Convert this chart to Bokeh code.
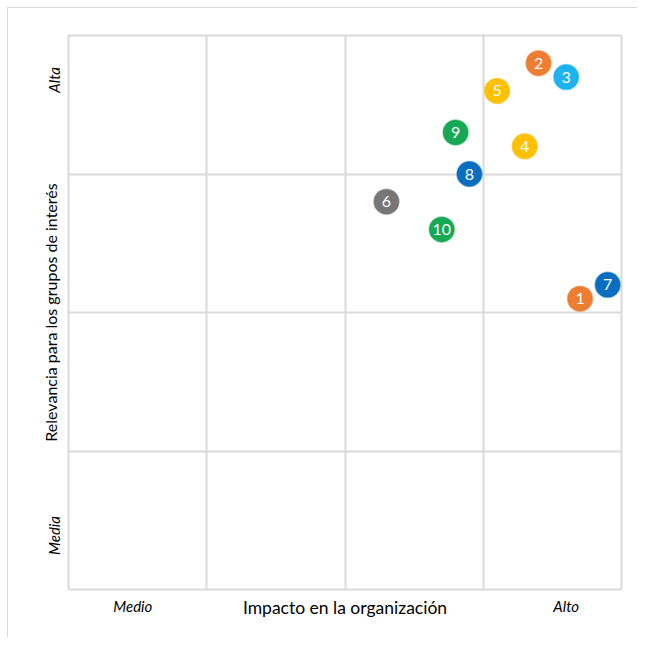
import math
from bokeh.plotting import figure
from bokeh.models import ColumnDataSource, Grid, FixedTicker, LinearAxis
from bokeh.core.properties import value
from bokeh.embed import file_html
from bokeh.resources import INLINE

# Data
ids = ["1", "2", "3", "4", "5", "6", "7", "8", "9", "10"]
impacto = [3.7, 3.4, 3.6, 3.3, 3.1, 2.3, 3.9, 2.9, 2.8, 2.7]
relevancia = [2.1, 3.8, 3.7, 3.2, 3.6, 2.8, 2.2, 3.0, 3.3, 2.6]
colores = ["#ED7D31", "#ED7D31", "#1DB3EE", "#FFC000", "#FFC000",
           "#767676", "#0A6EC0", "#0A6EC0", "#16A853", "#16A853"]
x_cat_labels = ["Medio", "Alto"]
x_cat_pos = [0.465, 3.6]
y_cat_labels = ["Media", "Alta"]
y_cat_pos = [0.39, 3.68]
x_title = "Impacto en la organización"
y_title = "Relevancia para los grupos de interés"

src = ColumnDataSource(dict(x=impacto, y=relevancia, t=ids, c=colores))

p = figure(width=630, height=630, x_range=(0, 4), y_range=(0, 4),
           x_axis_type=None, y_axis_type=None,
           output_backend="svg", toolbar_location=None,
           min_border_left=60, min_border_right=17,
           min_border_top=27, min_border_bottom=49,
           background_fill_color="white", border_fill_color="white",
           styles={"border-left": "1px solid #d9d9d9", "border-top": "1px solid #d9d9d9",
                   "margin-left": "7px", "margin-top": "7px"})

p.outline_line_color = "#D9D9D9"
p.outline_line_width = 2

for dim in (0, 1):
    g = Grid(dimension=dim, ticker=FixedTicker(ticks=[1, 2, 3]),
             grid_line_color="#D9D9D9", grid_line_width=2)
    p.add_layout(g)

xa = LinearAxis(ticker=FixedTicker(ticks=x_cat_pos),
                major_label_overrides={v: s for v, s in zip(x_cat_pos, x_cat_labels)},
                axis_label=x_title)
ya = LinearAxis(ticker=FixedTicker(ticks=y_cat_pos),
                major_label_overrides={v: s for v, s in zip(y_cat_pos, y_cat_labels)},
                axis_label=y_title, major_label_orientation="vertical")
for ax in (xa, ya):
    ax.axis_line_color = None
    ax.major_tick_line_color = None
    ax.minor_tick_line_color = None
    ax.major_label_text_font = "Lato"
    ax.major_label_text_font_style = "italic"
    ax.major_label_text_font_size = "15px"
    ax.major_label_text_color = "black"
    ax.axis_label_text_font = "Lato"
    ax.axis_label_text_font_style = "normal"
    ax.axis_label_text_color = "black"
xa.axis_label_text_font_size = "17.5px"
ya.axis_label_text_font_size = "16px"
xa.major_label_standoff = 1
xa.axis_label_standoff = -21
ya.major_label_standoff = -1
ya.axis_label_standoff = -17
p.add_layout(xa, "below")
p.add_layout(ya, "left")

p.scatter("x", "y", source=src, size=25, fill_color="c", line_color="c",
          line_alpha=0.5, line_width=1.5)
p.text("x", "y", text="t", source=src, text_color="white",
       text_align="center", text_baseline="middle",
       text_font=value("Lato"), text_font_size="16px")

open("out.html", "w").write(file_html(p, INLINE))
